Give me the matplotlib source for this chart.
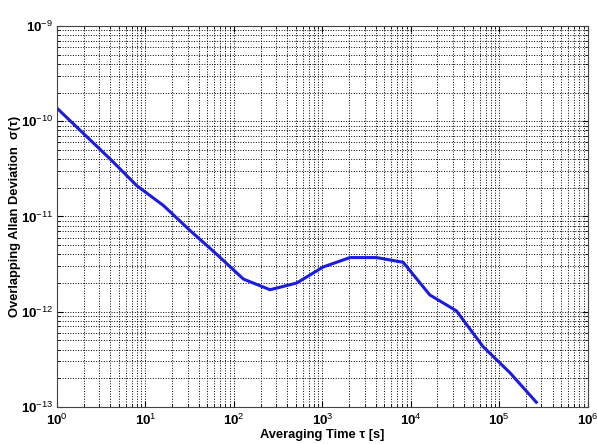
import numpy as np
import matplotlib.pyplot as plt
from matplotlib.ticker import FixedLocator, FuncFormatter

plt.rcParams['font.family'] = ['Liberation Sans', 'DejaVu Sans']
plt.rcParams['mathtext.fontset'] = 'custom'
plt.rcParams['mathtext.rm'] = 'Liberation Sans'
plt.rcParams['mathtext.it'] = 'Liberation Sans'
plt.rcParams['mathtext.bf'] = 'Liberation Sans:bold'

# averaging times (octave spacing) and overlapping Allan deviation
tau = [1, 2, 4, 8, 16, 32, 64, 128, 256, 512, 1024, 2048, 4096, 8192,
       16384, 32768, 65536, 131072, 262144]
adev = [1.37e-10, 7.4e-11, 4.0e-11, 2.1e-11, 1.3e-11, 7.1e-12, 4.0e-12,
        2.2e-12, 1.7e-12, 2.0e-12, 2.95e-12, 3.7e-12, 3.7e-12, 3.3e-12,
        1.5e-12, 1.02e-12, 4.3e-13, 2.3e-13, 1.12e-13]

x_exp = [0, 1, 2, 3, 4, 5, 6]
y_exp = [-13, -12, -11, -10, -9]

fig = plt.figure(figsize=(5.97, 4.44), dpi=100)
ax = fig.add_axes([0.0955, 0.0835, 0.889, 0.858])

ax.loglog(tau, adev, color='#1c1ce0', linewidth=2.2)

ax.set_xlim(1, 1e6)
ax.set_ylim(1e-13, 1e-9)
ax.xaxis.set_major_locator(FixedLocator([10.0 ** e for e in x_exp]))
ax.yaxis.set_major_locator(FixedLocator([10.0 ** e for e in y_exp]))
pow10 = FuncFormatter(lambda v, pos: r'$\mathbf{10}^{%d}$' % round(np.log10(v)))
ax.xaxis.set_major_formatter(pow10)
ax.yaxis.set_major_formatter(pow10)

ax.grid(True, which='both', linestyle=':', color='black', linewidth=0.7)
ax.tick_params(which='both', direction='in', labelsize=9.5, top=True, right=True)
ax.tick_params(which='major', length=4)
ax.tick_params(which='minor', length=2)
ax.tick_params(axis='x', pad=4)
ax.tick_params(axis='y', pad=3)
for s in ax.spines.values():
    s.set_color('#444444')

ax.set_xlabel('Averaging Time τ [s]', fontsize=9.3, fontweight='bold', va='top')
ax.xaxis.set_label_coords(0.5, -0.058)
ax.set_ylabel('Overlapping Allan Deviation  σ(τ)', fontsize=9.3, fontweight='bold')
ax.yaxis.set_label_coords(-0.068, 0.5)

fig.savefig('out.png', dpi=100)
